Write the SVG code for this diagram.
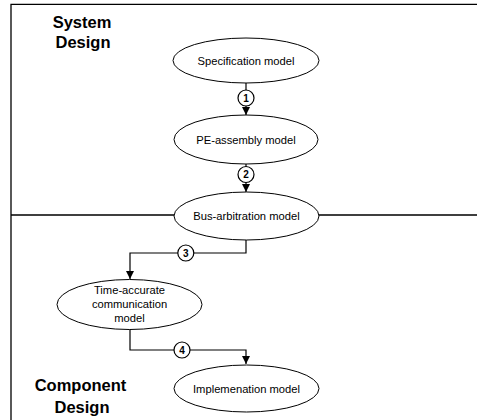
<svg xmlns="http://www.w3.org/2000/svg" width="477" height="420" viewBox="0 0 477 420">
  <style>
    .node ellipse { fill: #ffffff; stroke: #000000; stroke-width: 1; }
    .node text { font-family: "Liberation Sans", Arial, sans-serif; font-size: 11.2px; fill: #000000; text-anchor: middle; }
    .frame { fill: none; stroke: #000000; stroke-width: 1.3; }
    .edge { fill: none; stroke: #000000; stroke-width: 1.2; }
    .step circle { fill: #ffffff; stroke: #000000; stroke-width: 1.2; }
    .step text { font-family: "Liberation Sans", Arial, sans-serif; font-size: 10px; font-weight: bold; text-anchor: middle; }
    .title { font-family: "Liberation Sans", Arial, sans-serif; font-size: 16.5px; font-weight: bold; text-anchor: middle; fill: #000000; }
  </style>
  <defs>
    <marker id="arrow" viewBox="0 0 10 10" refX="10" refY="5" markerWidth="8" markerHeight="10" markerUnits="userSpaceOnUse" orient="auto">
      <path d="M0,0 L10,5 L0,10 Z" fill="#000000"/>
    </marker>
  </defs>

  <rect width="477" height="420" fill="#ffffff"/>

  <!-- frame and level divider -->
  <path class="frame" d="M11,420 L11,4.3 L477,4.3"/>
  <path class="frame" d="M11,215 L174,215 M319,215 L477,215"/>

  <!-- level titles -->
  <text class="title" x="82" y="28.3">System</text>
  <text class="title" x="83" y="47.5">Design</text>
  <text class="title" x="80.5" y="390.7">Component</text>
  <text class="title" x="82" y="412.7">Design</text>

  <!-- connectors -->
  <g id="connectors">
    <path class="edge" d="M246,83 L246,115" marker-end="url(#arrow)"/>
    <path class="edge" d="M246,164 L246,192" marker-end="url(#arrow)"/>
    <path class="edge" d="M246,240 L246,253 L130,253 L130,279" marker-end="url(#arrow)"/>
    <path class="edge" d="M130,329 L130,350 L246,350 L246,364" marker-end="url(#arrow)"/>
    <g class="step"><circle cx="246" cy="98" r="8"/><text x="246" y="101.6">1</text></g>
    <g class="step"><circle cx="246" cy="174.5" r="8"/><text x="246" y="178.1">2</text></g>
    <g class="step"><circle cx="185.8" cy="253" r="8"/><text x="185.8" y="256.6">3</text></g>
    <g class="step"><circle cx="182" cy="350" r="8"/><text x="182" y="353.6">4</text></g>
  </g>

  <!-- nodes -->
  <g id="spec" class="node">
    <ellipse cx="246" cy="60.5" rx="73" ry="22.5"/>
    <text x="246" y="64.5">Specification model</text>
  </g>
  <g id="pe-assembly" class="node">
    <ellipse cx="246" cy="139.5" rx="72" ry="24.5"/>
    <text x="246" y="143.5">PE-assembly model</text>
  </g>
  <g id="bus-arbitration" class="node">
    <ellipse cx="246.5" cy="216" rx="72.5" ry="24"/>
    <text x="246.5" y="220">Bus-arbitration model</text>
  </g>
  <g id="time-accurate" class="node">
    <ellipse cx="129.5" cy="304.5" rx="72.5" ry="25"/>
    <text x="129.5" y="293.5">Time-accurate</text>
    <text x="129.5" y="307.5">communication</text>
    <text x="129.5" y="321.5">model</text>
  </g>
  <g id="implementation" class="node">
    <ellipse cx="246.5" cy="388.5" rx="72.5" ry="23.5"/>
    <text x="246.5" y="392.5">Implemenation model</text>
  </g>
</svg>
